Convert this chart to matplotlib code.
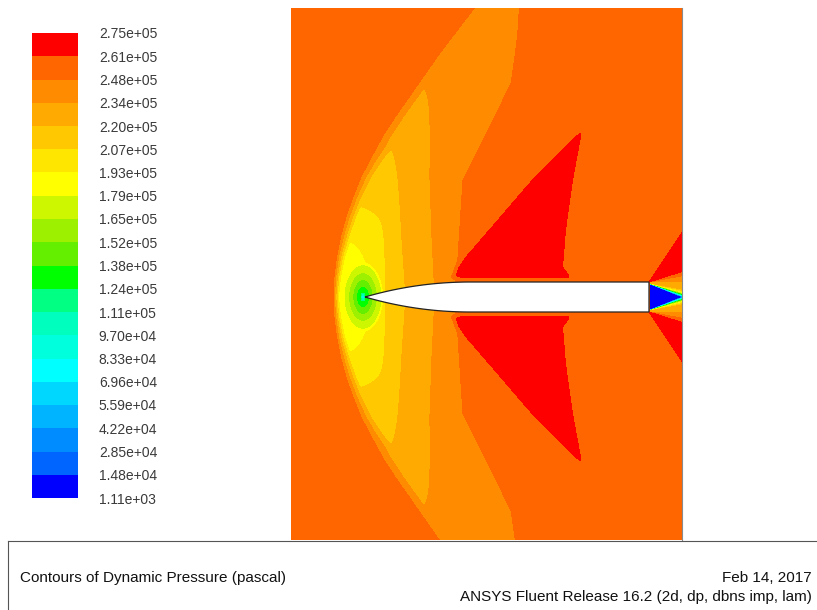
import numpy as np
import matplotlib.pyplot as plt
from matplotlib.lines import Line2D

plt.rcParams['font.family'] = ['Liberation Sans', 'DejaVu Sans']

# colour bar levels (Pa), as printed
levels = [1.11e3, 1.48e4, 2.85e4, 4.22e4, 5.59e4, 6.96e4, 8.33e4, 9.70e4,
          1.11e5, 1.24e5, 1.38e5, 1.52e5, 1.65e5, 1.79e5, 1.93e5, 2.07e5,
          2.20e5, 2.34e5, 2.48e5, 2.61e5, 2.75e5]
band_colors = ['#0000ff', '#0064ff', '#008cff', '#00b4ff', '#00d7ff', '#00ffff',
               '#00ffdc', '#00ffbe', '#00ff82', '#00ff00', '#64ee00', '#9cf000',
               '#cdf700', '#ffff00', '#ffe600', '#ffc800', '#ffaa00', '#ff8c00',
               '#ff6600', '#ff0000']

# flow features (units: px from the nose tip, r = distance from axis)
q_inf = 2.55e5
shock_r = [0, 20, 40, 60, 80, 100, 120, 140, 160, 180, 200, 220, 240, 260, 290]
shock_x = [-32.7, -31.9, -29.6, -25.9, -20.7, -14.1, -6.4, 3.0, 13.2, 26, 40,
           53.8, 67.7, 82.6, 105.4]
# how fast q drops just behind the shock (Pa per px)
drop_r = [0, 60, 150, 300]
drop_s = [1.0e4, 5.0e3, 1.8e3, 1.5e3]
# value right behind the shock vs. r
post_r = [0, 58, 92, 155, 220, 340]
post_q = [1.80e5, 1.93e5, 2.07e5, 2.20e5, 2.34e5, 2.48e5]
# downstream iso-lines of the expansion along the nose
iso_r = [0, 60, 120, 180, 240, 300]
iso_q = [1.93e5, 2.07e5, 2.20e5, 2.34e5]
iso_x = [[12, 11, 10, 9, 8, 7],
         [21, 20, 18, 16, 14, 12],
         [41, 37, 34, 29, 22, 15],
         [70, 67, 65, 66, 68, 70]]
edge_r = [0, 40, 117, 170, 214, 289, 300]
edge_x = [90, 93, 98, 125, 147, 160, 162]
# red lobes behind the shoulder
fin_r = [19, 22, 30, 67, 117, 160, 170]
fin_left = [87, 89, 93, 125, 168, 211, 222]
fin_right = [205, 203, 197, 200, 207, 215, 218]
# stagnation point at the tip
tip_d = [0, 1.5, 3, 6.5, 11, 19, 30]
tip_q = [7.0e4, 1.0e5, 1.24e5, 1.38e5, 1.55e5, 1.79e5, 2.75e5]

# projectile
nose_len, body_rad, body_len = 105, 15, 284


def sig(z):
    return 1.0 / (1.0 + np.exp(-z))


def smax(a, b, k):
    return np.maximum(a, b) + k * np.log1p(np.exp(-np.abs(a - b) / k))


x = np.arange(-74, 317.5, 0.5)
y = np.arange(-243, 289.5, 0.5)
X, Y = np.meshgrid(x, y)
R = np.abs(Y)
xs_sh = np.interp(R, shock_r, shock_x)
behind = np.maximum(X - xs_sh, 0)

# expansion field, one row at a time
A = np.empty_like(X)
for i, r in enumerate(R[:, 0]):
    xs = [np.interp(r, iso_r, row) for row in iso_x]
    xs.append(np.interp(r, edge_r, edge_x))
    A[i] = np.interp(x, [-40] + xs + [xs[-1] + 8],
                     [1.70e5] + iso_q + [2.48e5, q_inf])
# post-shock level; lobes close in a rounded arc behind the shock
B = np.interp(np.hypot(R, 1.3 * behind), post_r, post_q)
q_ps = smax(A, B, 3500.0)

# bow shock: q falls from the free stream value at a finite rate
ramp_sh = q_inf - np.interp(R, drop_r, drop_s) * behind
Q = np.where(X < xs_sh, q_inf, smax(q_ps, ramp_sh, 800.0))
Q = np.minimum(Q, q_inf)

# stagnation around the tip
d = np.sqrt((X + 2) ** 2 + (R / 1.7) ** 2)
Q = np.minimum(Q, np.interp(d, tip_d, tip_q))

# shoulder lobes and base expansion fan
xl = np.interp(R, fin_r, fin_left)
xr = np.interp(R, fin_r, fin_right)
fin = sig((X - xl) / 1.2) * sig((xr - X) / 1.2) * sig((R - 19.5) / 0.8)
dx = X - body_len
theta = np.degrees(np.arctan2(R - body_rad, dx))
fan = np.where(dx > 0, sig((theta - 17) / 3) * sig((55 - theta) / 3), 0)
Q = Q + 0.15e5 * np.maximum(fin, fan)

# wake behind the base
w = 13.5 * np.clip(1 - dx / 33, 0, 1)
t = np.clip((R - w) / (1.0 + 0.3 * np.maximum(dx, 0)), 0, 1)
ramp = 1 - (1 - t) ** 2.5
low = 1 - 0.1 * sig((8 - theta) / 4)
Q = np.where(dx > 0, Q * low * ramp, Q)
Q = np.clip(Q, 3e3, 2.74e5)

fig = plt.figure(figsize=(8.17, 6.10), dpi=100)
ax = fig.add_axes([291 / 817, 70 / 610, 391 / 817, 532 / 610])
cs = ax.contourf(X, Y, Q, levels=levels, colors=band_colors)

# body outline (tangent ogive + cylinder)
rho = (body_rad ** 2 + nose_len ** 2) / (2 * body_rad)
bx = np.linspace(0, nose_len, 80)
br = np.sqrt(rho ** 2 - (nose_len - bx) ** 2) - (rho - body_rad)
bx = np.append(bx, body_len)
br = np.append(br, body_rad)
px = np.concatenate([bx, bx[::-1]])
py = np.concatenate([br, -br[::-1]])
ax.fill(px, py, facecolor='white', edgecolor='#222222', lw=0.9, zorder=3)

ax.set_xlim(x[0], x[-1])
ax.set_ylim(y[0], y[-1])
ax.set_xticks([])
ax.set_yticks([])
for name, s in ax.spines.items():
    s.set_visible(name == 'right')
ax.spines['right'].set_color('#8a8a8a')
ax.spines['right'].set_linewidth(0.8)

# colour bar
cax = fig.add_axes([32 / 817, 112 / 610, 46 / 817, 465 / 610])
cbar = fig.colorbar(cs, cax=cax, ticks=levels)
cbar.outline.set_visible(False)
cbar.ax.set_yticklabels([f'{v:.2e}' for v in levels])
cax.tick_params(length=0, pad=15, labelsize=10, labelcolor='#3a3a3a')

# footer box
fig.add_artist(Line2D([8 / 817, 1], [69 / 610, 69 / 610], color='#555555', lw=0.8))
fig.add_artist(Line2D([8 / 817, 8 / 817], [0, 69 / 610], color='#555555', lw=0.8))
fig.text(20 / 817, 32 / 610, 'Contours of Dynamic Pressure (pascal)',
         fontsize=11, va='center', ha='left', color='#111111')
fig.text(812 / 817, 32 / 610, 'Feb 14, 2017',
         fontsize=11, va='center', ha='right', color='#111111')
fig.text(812 / 817, 13 / 610, 'ANSYS Fluent Release 16.2 (2d, dp, dbns imp, lam)',
         fontsize=11, va='center', ha='right', color='#111111')

fig.savefig('out.png', dpi=100)
